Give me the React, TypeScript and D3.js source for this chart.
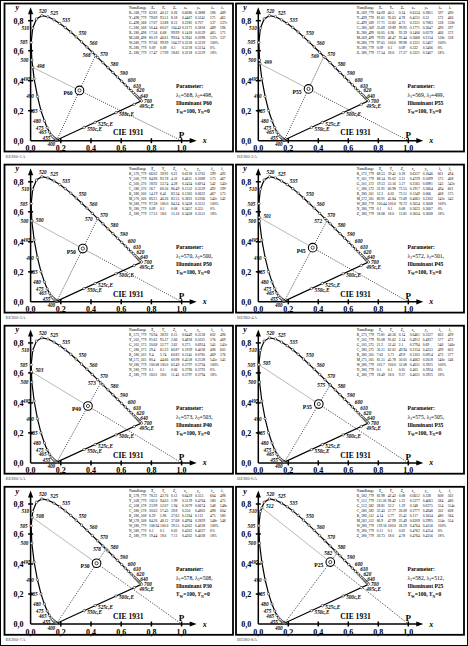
import React from "react";
import * as d3 from "d3";

// CIE 1931 2° spectral locus (chromaticity x, y)
const LOCUS_NM = [380, 385, 390, 395, 400, 405, 410, 415, 420, 425, 430, 435, 440, 445, 450, 455, 460, 465, 470, 475, 480, 485, 490, 495, 500, 505, 510, 515, 520, 525, 530, 535, 540, 545, 550, 555, 560, 565, 570, 575, 580, 585, 590, 595, 600, 605, 610, 615, 620, 625, 630, 635, 640, 645, 650, 655, 660, 665, 670, 680, 690, 700];
const LOCUS_X = [0.1741, 0.174, 0.1738, 0.1736, 0.1733, 0.173, 0.1726, 0.1721, 0.1714, 0.1703, 0.1689, 0.1669, 0.1644, 0.1611, 0.1566, 0.151, 0.144, 0.1355, 0.1241, 0.1096, 0.0913, 0.0687, 0.0454, 0.0235, 0.0082, 0.0039, 0.0139, 0.0389, 0.0743, 0.1142, 0.1547, 0.1929, 0.2296, 0.2658, 0.3016, 0.3373, 0.3731, 0.4087, 0.4441, 0.4788, 0.5125, 0.5448, 0.5752, 0.6029, 0.627, 0.6482, 0.6658, 0.6801, 0.6915, 0.7006, 0.7079, 0.714, 0.719, 0.723, 0.726, 0.7283, 0.73, 0.7311, 0.732, 0.7334, 0.7344, 0.7347];
const LOCUS_Y = [0.005, 0.005, 0.0049, 0.0049, 0.0048, 0.0048, 0.0048, 0.0048, 0.0051, 0.0058, 0.0069, 0.0086, 0.0109, 0.0138, 0.0177, 0.0227, 0.0297, 0.0399, 0.0578, 0.0868, 0.1327, 0.2007, 0.295, 0.4127, 0.5384, 0.6548, 0.7502, 0.812, 0.8338, 0.8262, 0.8059, 0.7816, 0.7543, 0.7243, 0.6923, 0.6589, 0.6245, 0.5896, 0.5547, 0.5202, 0.4866, 0.4544, 0.4242, 0.3965, 0.3725, 0.3514, 0.334, 0.3197, 0.3083, 0.2993, 0.292, 0.2859, 0.2809, 0.277, 0.274, 0.2717, 0.27, 0.2689, 0.268, 0.2666, 0.2656, 0.2653];

const LABEL_NM = [400, 455, 465, 475, 480, 485, 490, 495, 500, 505, 510, 520, 525, 535, 550, 560, 570, 580, 590, 600, 610, 620, 640, 700];
const COMPLEMENT_NM = [495, 500, 525, 550];
const WHITE_E = [0.3333, 0.3333];
const POINT_P = [1, 0];

const X_TICKS = [0, 0.2, 0.4, 0.6, 0.8, 1.0];
const Y_TICKS = [0, 0.2, 0.4, 0.6, 0.8];

// panels
const PANEL_ID = ["BEI80-1A", "BEI80-2A", "BEI80-3A", "BEI80-4A", "BEI80-5A", "BEI80-6A", "BEI80-7A", "BEI80-8A"];
const ILLUMINANT = ["P60", "P55", "P50", "P45", "P40", "P35", "P30", "P25"];
const LAMBDA_1 = [568, 569, 570, 572, 573, 575, 578, 582];
const LAMBDA_2 = [498, 499, 500, 501, 503, 505, 508, 512];

const ROW_NAMES = ["R", "Y", "G", "C", "B", "M", "W", "N", "Z"];
const HEADER = ["X", "Y", "Z", "x", "y"];
const TABLE_VALUES = [
  [
    "62.81 40.12 0.26 0.6086 0.3888 596 489",
    "79.69 93.51 8.18 0.4467 0.5241 571 465",
    "17.07 53.88 8.13 0.2282 0.707 537 537c",
    "50.44 60.07 104.42 0.2171 0.3818 489 596",
    "17.56 6.68 99.99 0.1418 0.0539 465 571",
    "80.19 46.61 99.64 0.3941 0.2098 537c 537",
    "97.06 99.99 104.37 0.3218 0.3319 100%",
    "0.09 0.09 0.1 0.3218 0.3314 0%",
    "17.47 17.99 18.82 0.3218 0.3319 18%",
  ],
  [
    "64.09 40.3 0.24 0.6124 0.3851 597 490",
    "81.61 95.63 4.78 0.4555 0.52 572 466",
    "17.71 53.82 4.73 0.2331 0.7083 538 538c",
    "35.69 59.89 99.93 0.1771 0.3647 490 597",
    "16.05 6.96 93.39 0.1406 0.0579 466 572",
    "79.93 46.47 93.44 0.3668 0.2134 538c 538",
    "97.65 100.0 99.98 0.3321 0.3407 100%",
    "0.09 0.1 0.09 0.332 0.3406 0%",
    "17.54 18.0 17.27 0.3321 0.3407 18%",
  ],
  [
    "66.02 39.92 0.21 0.6218 0.3762 599 492",
    "84.96 93.78 4.32 0.4611 0.5089 573 467",
    "18.92 53.74 4.28 0.2434 0.6914 542 542c",
    "26.7 60.56 86.49 0.1552 0.3529 492 599",
    "14.19 6.41 82.34 0.1363 0.0622 467 573",
    "80.21 46.26 82.55 0.3822 0.2206 542c 542",
    "97.38 100.0 84.24 0.3458 0.3551 100%",
    "0.09 0.1 0.08 0.3457 0.355 0%",
    "17.53 18.0 15.16 0.3458 0.3551 18%",
  ],
  [
    "68.53 39.45 0.18 0.6337 0.3646 601 494",
    "88.14 95.02 3.21 0.4729 0.5099 575 468",
    "19.53 53.16 3.17 0.2565 0.6981 543 543c",
    "31.91 60.98 73.55 0.1917 0.3664 494 601",
    "12.3 6.02 73.51 0.1349 0.066 468 575",
    "80.91 45.84 73.69 0.4063 0.2302 543c 543",
    "100.44 100.0 76.72 0.3624 0.3608 100%",
    "0.1 0.1 0.08 0.3623 0.3607 0%",
    "18.08 18.0 13.81 0.3624 0.3608 18%",
  ],
  [
    "70.94 38.92 0.15 0.6449 0.3538 602 496",
    "91.62 95.37 2.66 0.4828 0.5025 576 469",
    "20.68 52.77 2.62 0.273 0.6924 545 545c",
    "29.4 61.23 60.87 0.1939 0.4038 496 602",
    "9.4 5.74 60.83 0.1245 0.0785 469 576",
    "80.4 44.66 60.98 0.4558 0.2528 545c 545",
    "100.08 100.0 63.49 0.3797 0.3794 100%",
    "0.1 0.1 0.06 0.3796 0.3793 0%",
    "18.01 18.0 11.43 0.3797 0.3794 18%",
  ],
  [
    "73.81 40.36 0.14 0.6461 0.3527 603 499",
    "95.08 95.62 2.14 0.4912 0.4937 577 472",
    "21.2 52.41 2.1 0.2794 0.69 546 546c",
    "30.11 62.01 49.94 0.2124 0.4353 499 603",
    "7.62 5.71 49.9 0.1203 0.0914 472 577",
    "81.51 45.78 50.05 0.4662 0.2618 546c 546",
    "102.7 100.0 52.08 0.4031 0.3925 100%",
    "0.1 0.1 0.05 0.403 0.3924 0%",
    "18.49 18.0 9.37 0.4031 0.3925 18%",
  ],
  [
    "78.22 42.76 0.12 0.6459 0.353 604 498",
    "102.0 94.63 1.99 0.5139 0.4764 580 475",
    "23.99 52.07 1.94 0.3079 0.6674 548 548c",
    "30.63 57.43 39.8 0.256 0.4803 498 604",
    "6.29 5.96 37.63 0.1264 0.112 475 580",
    "84.26 48.12 37.68 0.4994 0.2829 548c 548",
    "108.04 100.0 39.55 0.4363 0.4038 100%",
    "0.1 0.1 0.03 0.4363 0.4037 0%",
    "19.44 18.0 7.11 0.4363 0.4038 18%",
  ],
  [
    "82.98 42.42 0.08 0.6612 0.338 608 502",
    "111.26 96.42 1.23 0.5377 0.4663 584 480",
    "28.81 52.2 1.19 0.348 0.6375 554 554c",
    "32.43 57.77 26.09 0.2777 0.4948 502 608",
    "4.14 5.77 25.41 0.117 0.1634 480 584",
    "86.9 47.99 25.49 0.6209 0.2995 554c 554",
    "119.16 100.0 26.59 0.4764 0.4156 100%",
    "0.11 0.1 0.02 0.4762 0.4154 0%",
    "20.73 18.0 4.78 0.4764 0.4156 18%",
  ],
];

const W = 468;
const H = 646;
const SERIF = "'Liberation Serif','DejaVu Serif','Times New Roman',serif";
const BOX_X = [4.5, 236];
const BOX_W = [228.5, 228];
const ORIGIN_X = [30.6, 258.3];
const UNIT_X = [151, 150];
const ROW_PITCH = 161.1;

type Pt = [number, number];

function intersect(a: Pt, b: Pt, c: Pt, d: Pt): Pt {
  const d1x = b[0] - a[0], d1y = b[1] - a[1];
  const d2x = d[0] - c[0], d2y = d[1] - c[1];
  const den = d1x * d2y - d1y * d2x;
  const t = ((c[0] - a[0]) * d2y - (c[1] - a[1]) * d2x) / den;
  return [a[0] + t * d1x, a[1] + t * d1y];
}

const locusX = d3.scaleLinear().domain(LOCUS_NM).range(LOCUS_X);
const locusY = d3.scaleLinear().domain(LOCUS_NM).range(LOCUS_Y);
const locusAt = (nm: number): Pt => [locusX(nm), locusY(nm)];
const BLUE_END: Pt = [LOCUS_X[0], LOCUS_Y[0]];
const RED_END: Pt = [LOCUS_X[LOCUS_X.length - 1], LOCUS_Y[LOCUS_Y.length - 1]];

// label placement around the locus (pixel offsets)
function labelOffset(nm: number): { dx: number; dy: number; anchor: string } {
  if (nm === 400) return { dx: -5.5, dy: 6.3, anchor: "middle" };
  if (nm === 520) return { dx: 1, dy: -3, anchor: "middle" };
  if (nm === 600) return { dx: 2.5, dy: -2.6, anchor: "start" };
  if (nm === 610) return { dx: 2, dy: -3, anchor: "start" };
  if (nm === 620) return { dx: 1.5, dy: -2, anchor: "start" };
  if (nm === 640) return { dx: 1, dy: -1, anchor: "start" };
  if (nm === 700) return { dx: 2.5, dy: 1.8, anchor: "start" };
  if (nm > 520) return { dx: 2.5, dy: -1.8, anchor: "start" };
  if (nm === 465) return { dx: -4.5, dy: -0.5, anchor: "end" };
  if (nm === 455) return { dx: -3, dy: 3, anchor: "end" };
  return { dx: -3.5, dy: 2, anchor: "end" };
}

function Panel({ i }: { i: number }) {
  const col = i % 2;
  const row = Math.floor(i / 2);
  const bx = BOX_X[col];
  const by = 3.5 + row * ROW_PITCH;
  const ox = ORIGIN_X[col];
  const oy = 140.7 + row * ROW_PITCH;
  const xS = d3.scaleLinear().domain([0, 1]).range([ox, ox + UNIT_X[col]]);
  const yS = d3.scaleLinear().domain([0, 1]).range([oy, oy - 150]);
  const px = (p: Pt): Pt => [xS(p[0]), yS(p[1])];

  const locusPts: Pt[] = LOCUS_NM.map((_, k) => [LOCUS_X[k], LOCUS_Y[k]]);
  const locusPath = d3.line()(locusPts.map(px)) + "Z";

  const l1 = locusAt(LAMBDA_1[i]);
  const l2 = locusAt(LAMBDA_2[i]);
  const white = intersect(BLUE_END, l1, POINT_P as Pt, l2);
  const [wx, wy] = px(white);
  const [l1x, l1y] = px(l1);
  const [l2x, l2y] = px(l2);
  const [bex, bey] = px(BLUE_END);
  const [ppx, ppy] = px(POINT_P as Pt);

  const markers = LOCUS_NM.filter((nm) => (nm >= 400 && nm <= 650) || nm === 700);

  const comp = COMPLEMENT_NM.map((nm) => {
    const p = intersect(locusAt(nm), WHITE_E as Pt, BLUE_END, RED_END);
    return { nm, p: px(p) };
  });

  const tx0 = ox + 98.5;
  const ty0 = oy - 132.1;
  const rowCols = [0, 4.5, 20, 31, 42, 53, 66, 81, 91];
  const dotted = { stroke: "#000", strokeWidth: 0.8, strokeDasharray: "0.9 1.3", fill: "none" };

  return (
    <g fontFamily={SERIF}>
      <rect x={bx} y={by} width={BOX_W[col]} height={148} fill="#fff" stroke="#000" strokeWidth={1.8} />
      <text x={bx + 1} y={by + 154} fontSize={4.8} fill="#555">{PANEL_ID[i]}</text>

      {/* axes */}
      <line x1={xS(0)} y1={yS(0)} x2={xS(1.1) - 4} y2={yS(0)} stroke="#000" strokeWidth={1.5} />
      <path d={`M${xS(1.1)},${yS(0)} L${xS(1.1) - 7},${yS(0) - 2.6} L${xS(1.1) - 7},${yS(0) + 2.6}Z`} fill="#000" />
      <line x1={xS(0)} y1={yS(0)} x2={xS(0)} y2={yS(0.89) + 4} stroke="#000" strokeWidth={1.5} />
      <path d={`M${xS(0)},${yS(0.89)} L${xS(0) - 2.6},${yS(0.89) + 7} L${xS(0) + 2.6},${yS(0.89) + 7}Z`} fill="#000" />
      <text x={xS(1.14)} y={yS(0) + 2.5} fontSize={8} fontStyle="italic" fontWeight="bold">x</text>
      <text x={xS(0) - 15} y={yS(0.87)} fontSize={8} fontStyle="italic" fontWeight="bold">y</text>
      {X_TICKS.filter((t) => t > 0).map((t) => (
        <line key={"xt" + t} x1={xS(t)} x2={xS(t)} y1={yS(0) - 2.5} y2={yS(0) + 2.5} stroke="#000" strokeWidth={1.5} />
      ))}
      {Y_TICKS.filter((t) => t > 0).map((t) => (
        <line key={"yt" + t} x1={xS(0) - 2.5} x2={xS(0) + 2.5} y1={yS(t)} y2={yS(t)} stroke="#000" strokeWidth={1.5} />
      ))}
      {X_TICKS.map((t) => (
        <text key={"xl" + t} x={xS(t)} y={yS(0) + 10.5} fontSize={8} fontWeight="bold" textAnchor="middle">
          {t.toFixed(1).replace(".", ",")}
        </text>
      ))}
      {Y_TICKS.map((t) => (
        <text key={"yl" + t} x={xS(0) - 7} y={yS(t) + 2.8} fontSize={8} fontWeight="bold" textAnchor="end">
          {t.toFixed(1).replace(".", ",")}
        </text>
      ))}

      {/* construction lines */}
      <line x1={bex} y1={bey} x2={l1x} y2={l1y} {...dotted} />
      <line x1={l2x} y1={l2y} x2={wx} y2={wy} stroke="#888" strokeWidth={0.6} />
      <line x1={wx} y1={wy} x2={ppx} y2={ppy} {...dotted} />

      {/* locus */}
      <path d={locusPath} fill="none" stroke="#000" strokeWidth={1.2} />
      {markers.map((nm) => {
        const [x, y] = px(locusAt(nm));
        return <circle key={"m" + nm} cx={x} cy={y} r={1.2} fill="#fff" stroke="#000" strokeWidth={0.5} />;
      })}
      {comp.map((c) => (
        <circle key={"c" + c.nm} cx={c.p[0]} cy={c.p[1]} r={1.2} fill="#fff" stroke="#000" strokeWidth={0.5} />
      ))}
      <circle cx={l1x} cy={l1y} r={1.2} fill="#fff" stroke="#000" strokeWidth={0.5} />
      <circle cx={l2x} cy={l2y} r={1.2} fill="#fff" stroke="#000" strokeWidth={0.5} />

      {LABEL_NM.map((nm) => {
        const [x, y] = px(locusAt(nm));
        const o = labelOffset(nm);
        return (
          <text key={"wl" + nm} x={x + o.dx} y={y + o.dy} fontSize={5.2} fontStyle="italic" fontWeight="bold" textAnchor={o.anchor}>
            {nm}
          </text>
        );
      })}
      {comp.map((c) => (
        <text key={"cl" + c.nm} x={c.p[0] + (c.nm === 495 ? 5 : 3)} y={c.p[1] + 3.4} fontSize={5.2} fontStyle="italic" fontWeight="bold">
          {c.nm}c,E
        </text>
      ))}
      <text x={l1x - 5} y={l1y + 2} fontSize={5.2} fontStyle="italic" fontWeight="bold" textAnchor="end">{LAMBDA_1[i]}</text>
      <text x={l2x + 4} y={l2y + 0.5} fontSize={5.2} fontStyle="italic" fontWeight="bold">{LAMBDA_2[i]}</text>

      {/* illuminant */}
      <circle cx={wx} cy={wy} r={4.3} fill="#fff" stroke="#000" strokeWidth={1.1} />
      <circle cx={wx} cy={wy} r={1.6} fill="none" stroke="#000" strokeWidth={0.7} />
      <text x={wx - 7} y={wy + 5} fontSize={5.6} fontWeight="bold" textAnchor="end">{ILLUMINANT[i]}</text>

      <text x={xS(0.546)} y={yS(0.035)} fontSize={7.6} fontWeight="bold">CIE 1931</text>
      <text x={xS(1)} y={yS(0) - 3} fontSize={9} fontWeight="bold" textAnchor="middle">P</text>

      {/* parameter block */}
      <g fontSize={5.6}>
        <text x={bx + 171.5} y={oy - 52.7} fontWeight="bold">Parameter:</text>
        <text x={bx + 171.5} y={oy - 44.2}>
          λ<tspan fontSize={3.8} dy={1.2}>1</tspan><tspan dy={-1.2}>={LAMBDA_1[i]}, λ</tspan>
          <tspan fontSize={3.8} dy={1.2}>2</tspan><tspan dy={-1.2}>={LAMBDA_2[i]},</tspan>
        </text>
        <text x={bx + 171.5} y={oy - 36.2} fontWeight="bold">Illuminant {ILLUMINANT[i]}</text>
        <text x={bx + 171.5} y={oy - 27.7} fontWeight="bold">
          <tspan fontStyle="italic">Y</tspan><tspan fontSize={3.8} dy={1.2}>W</tspan><tspan dy={-1.2}>=100, </tspan>
          <tspan fontStyle="italic">Y</tspan><tspan fontSize={3.8} dy={1.2}>N</tspan><tspan dy={-1.2}>=0</tspan>
        </text>
      </g>

      {/* data table */}
      <g fontSize={3.6}>
        <text x={tx0} y={ty0}>Name</text>
        <text x={tx0 + 8} y={ty0}>Range</text>
        {HEADER.map((h, k) => (
          <text key={"h" + h} x={tx0 + rowCols[k + 2] + 2} y={ty0} fontStyle="italic">
            {h}<tspan fontSize={2.6} dy={0.8}>d</tspan>
          </text>
        ))}
        <text x={tx0 + rowCols[7] + 1} y={ty0} fontStyle="italic">λ<tspan fontSize={2.6} dy={0.8}>d</tspan></text>
        <text x={tx0 + rowCols[8] + 1} y={ty0} fontStyle="italic">λ<tspan fontSize={2.6} dy={0.8}>c</tspan></text>
        {ROW_NAMES.map((name, r) => {
          const ranges = [
            `${LAMBDA_1[i]}_779`, `${LAMBDA_2[i]}_779`, `${LAMBDA_2[i]}_${LAMBDA_1[i]}`,
            `380_${LAMBDA_1[i]}`, `380_${LAMBDA_2[i]}`, `${LAMBDA_1[i]}_${LAMBDA_2[i]}`,
            "380_779", "380_779", "380_779",
          ];
          const vals = TABLE_VALUES[i][r].split(" ");
          const y = ty0 + 5 * (r + 1);
          return (
            <g key={"r" + name}>
              <text x={tx0} y={y}>{name}<tspan fontSize={2.6} dy={0.8}>d</tspan></text>
              <text x={tx0 + rowCols[1]} y={y}>{ranges[r]}</text>
              {vals.map((v, k) => (
                <text key={k} x={tx0 + rowCols[k + 2]} y={y}>{v}</text>
              ))}
            </g>
          );
        })}
      </g>
    </g>
  );
}

export default function App() {
  return (
    <svg width={W} height={H} style={{ position: "absolute", left: 0, top: 0, background: "#fff" }}>
      <rect x={0} y={0} width={W} height={H} fill="#fff" />
      <rect x={0.5} y={0.5} width={W - 1} height={H - 1} fill="none" stroke="#000" strokeWidth={1} />
      {PANEL_ID.map((_, i) => (
        <Panel key={i} i={i} />
      ))}
    </svg>
  );
}
